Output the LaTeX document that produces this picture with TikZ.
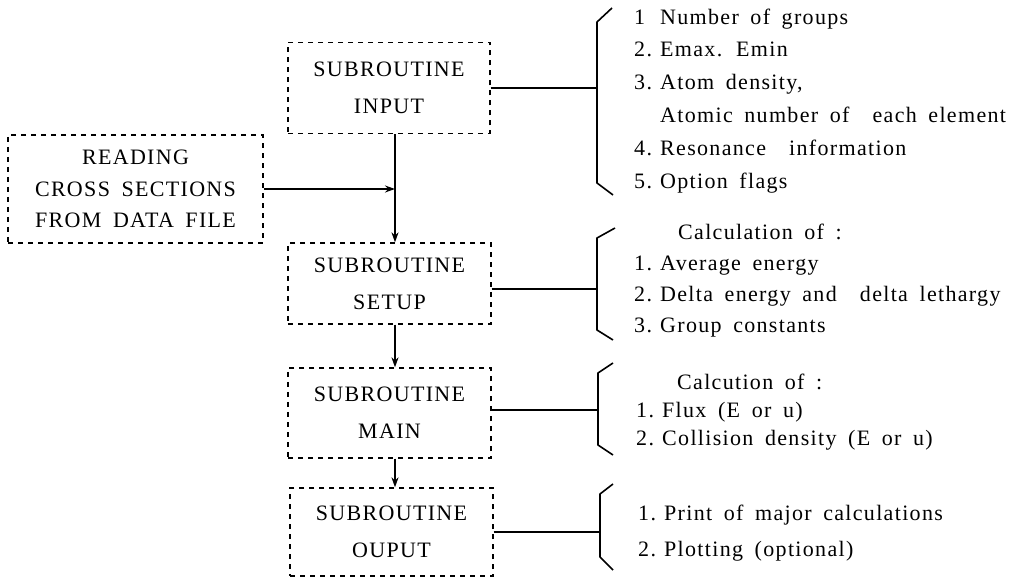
\documentclass[tikz,border=0pt]{standalone}
\usepackage{fontspec}
\setmainfont{Liberation Serif}[LetterSpace=6,WordSpace=1.7]
\usetikzlibrary{arrows.meta}
\newcommand{\nlab}[2]{\makebox[26pt][l]{#1}#2}
\tikzset{
  procbox/.style={draw, line width=1.3pt, dash pattern=on 5pt off 5pt, align=center,
    inner sep=0pt, font=\fontsize{22}{37}\selectfont},
  conn/.style={line width=1.6pt},
  arr/.style={conn, -{Stealth[length=10pt,width=7pt]}},
  brace/.style={line width=1.6pt, line join=round},
  lst/.style={anchor=base west, inner sep=0pt, font=\fontsize{22}{24}\selectfont}
}
\begin{document}
\begin{tikzpicture}[x=1pt,y=-1pt]
\useasboundingbox (0,0) rectangle (1013,580);
% boxes
\node[procbox, minimum width=202pt, minimum height=91pt] (input) at (389,88) {SUBROUTINE\\INPUT};
\node[procbox, minimum width=255pt, minimum height=108pt, font=\fontsize{22}{31.5}\selectfont] (read) at (135.5,189) {READING\\CROSS SECTIONS\\FROM DATA FILE};
\node[procbox, minimum width=203pt, minimum height=81pt] (setup) at (389.5,283.5) {SUBROUTINE\\SETUP};
\node[procbox, minimum width=203pt, minimum height=90pt] (main) at (389.5,413) {SUBROUTINE\\MAIN};
\node[procbox, minimum width=203pt, minimum height=88pt] (output) at (391.5,532) {SUBROUTINE\\OUPUT};
% flow
\coordinate (vx) at (395,0);
\draw[arr] (input.south -| vx) -- (setup.north -| vx);
\draw[arr] (read.east) -- (read.east -| vx);
\draw[arr] (setup.south -| vx) -- (main.north -| vx);
\draw[arr] (main.south -| vx) -- (output.north -| vx);
% brackets
\coordinate (bI) at (597,0);
\coordinate (bS) at (597,0);
\coordinate (bM) at (598,0);
\coordinate (bO) at (600,0);
\draw[conn] (input.east) -- (input.east -| bI);
\draw[conn] ([yshift=-5.5pt]setup.east) -- ([yshift=-5.5pt]setup.east -| bS);
\draw[conn] ([yshift=3pt]main.east) -- ([yshift=3pt]main.east -| bM);
\draw[conn] (output.east) -- (output.east -| bO);
\draw[brace] (612,8) -- (597,22) -- (597,183) -- (613,195);
\draw[brace] (615,228) -- (597,238) -- (597,330) -- (613,340);
\draw[brace] (613,363) -- (598,373) -- (598,445) -- (613,455);
\draw[brace] (613,484) -- (600,494) -- (600,557) -- (613,570);
% input list
\node[lst] (i1) at (634,25) {\nlab{1}{Number of groups}};
\node[lst] (i2) at (634,57) {\nlab{2.}{Emax. Emin}};
\node[lst] (i3) at (634,90) {\nlab{3.}{Atom density,}};
\node[lst] (i4) at (634,123) {\nlab{}{Atomic number of \ each element}};
\node[lst] (i5) at (634,156) {\nlab{4.}{Resonance \ information}};
\node[lst] (i6) at (634,189) {\nlab{5.}{Option flags}};
% setup list
\node[lst] (s0) at (678,240) {Calculation of :};
\node[lst] (s1) at (634,271) {\nlab{1.}{Average energy}};
\node[lst] (s2) at (634,302) {\nlab{2.}{Delta energy and \ delta lethargy}};
\node[lst] (s3) at (634,333) {\nlab{3.}{Group constants}};
% main list
\node[lst] (m0) at (677,389) {Calcution of :};
\node[lst] (m1) at (636,417) {\nlab{1.}{Flux (E or u)}};
\node[lst] (m2) at (636,445) {\nlab{2.}{Collision density (E or u)}};
% output list
\node[lst] (o1) at (638,520) {\nlab{1.}{Print of major calculations}};
\node[lst] (o2) at (638,556) {\nlab{2.}{Plotting (optional)}};
\end{tikzpicture}
\end{document}
